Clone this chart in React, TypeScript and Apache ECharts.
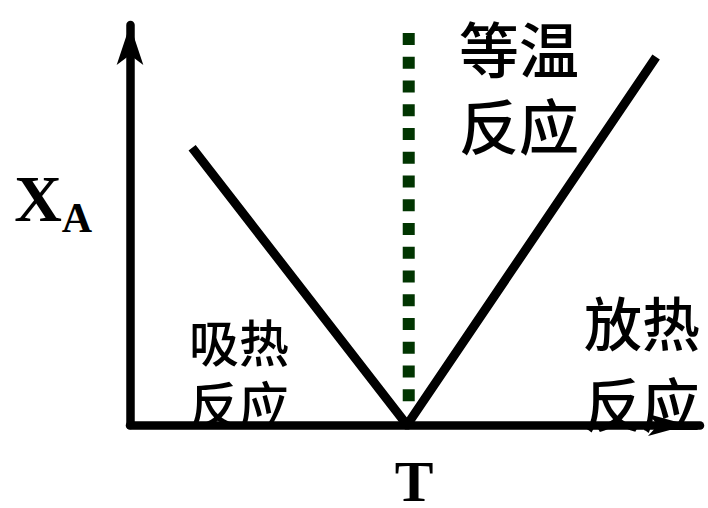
import React, { useEffect, useRef } from "react";
import * as echarts from "echarts";

// V-shaped curve: [T, X_A]
const vLine: [number, number][] = [
  [10.9, 69.3],
  [48.6, 0],
  [92.3, 92],
];
// isothermal dotted line
const isoLine: [number, number][] = [
  [48.9, 98],
  [48.9, 5.8],
];
const axisNameY = "X";
const axisNameYSub = "A";
const axisNameX = "T";
const labelIso = ["等温", "反应"];
const labelEndo = ["吸热", "反应"];
const labelExo = ["放热", "反应"];

export default function App() {
  const ref = useRef<HTMLDivElement>(null);
  useEffect(() => {
    if (!ref.current) return;
    const chart = echarts.init(ref.current, undefined, { renderer: "svg" });
    const cjk = '"Noto Sans CJK SC", sans-serif';
    const serif = '"Liberation Serif", "Times New Roman", serif';
    const txt = (
      text: string,
      x: number,
      y: number,
      size: number,
      font: string,
      weight: any = "normal",
      align: any = "left",
      lineHeight?: number
    ) => ({
      type: "text",
      x,
      y,
      style: {
        text,
        fill: "#000",
        font: `${weight} ${size}px ${font}`,
        align,
        verticalAlign: "middle",
        lineHeight: lineHeight ?? size,
      },
    });
    chart.setOption({
      animation: false,
      backgroundColor: "#fff",
      grid: { left: 130, top: 25, right: 8, bottom: 83, outerBoundsMode: "none" },
      xAxis: {
        type: "value",
        min: 0,
        max: 100,
        axisLine: {
          show: true,
          lineStyle: { color: "#000", width: 8.5 },
          symbol: ["none", "arrow"],
          symbolSize: [16.5, 40],
          symbolOffset: [0, -12],
        },
        axisTick: { show: false },
        axisLabel: { show: false },
        splitLine: { show: false },
      },
      yAxis: {
        type: "value",
        min: 0,
        max: 100,
        axisLine: {
          show: true,
          lineStyle: { color: "#000", width: 8.5 },
          symbol: ["none", "arrow"],
          symbolSize: [20, 40],
        },
        axisTick: { show: false },
        axisLabel: { show: false },
        splitLine: { show: false },
      },
      series: [
        {
          type: "line",
          data: isoLine,
          showSymbol: false,
          symbol: "none",
          lineStyle: { color: "#013501", width: 12, type: [12, 11.75], cap: "butt" },
          z: 3,
        },
        {
          type: "line",
          data: vLine,
          showSymbol: false,
          symbol: "none",
          lineStyle: { color: "#000", width: 9, cap: "butt", join: "miter" },
          z: 4,
        },
      ],
      graphic: [
        txt(axisNameY, 38, 198, 66, serif, "bold", "center"),
        txt(axisNameYSub, 77, 218, 42, serif, "bold", "center"),
        txt(axisNameX, 414, 481, 58, serif, "bold", "center", 44),
        txt(labelIso.join("\n"), 459, 84.5, 60, cjk, 500, "left", 77),
        txt(labelEndo.join("\n"), 189, 371, 50, cjk, 500, "left", 62),
        txt(labelExo.join("\n"), 584, 361.5, 58, cjk, 500, "left", 81),
      ],
    });
    return () => chart.dispose();
  }, []);
  return (
    <div
      ref={ref}
      style={{ position: "absolute", left: 0, top: 0, width: 708, height: 508 }}
    />
  );
}
